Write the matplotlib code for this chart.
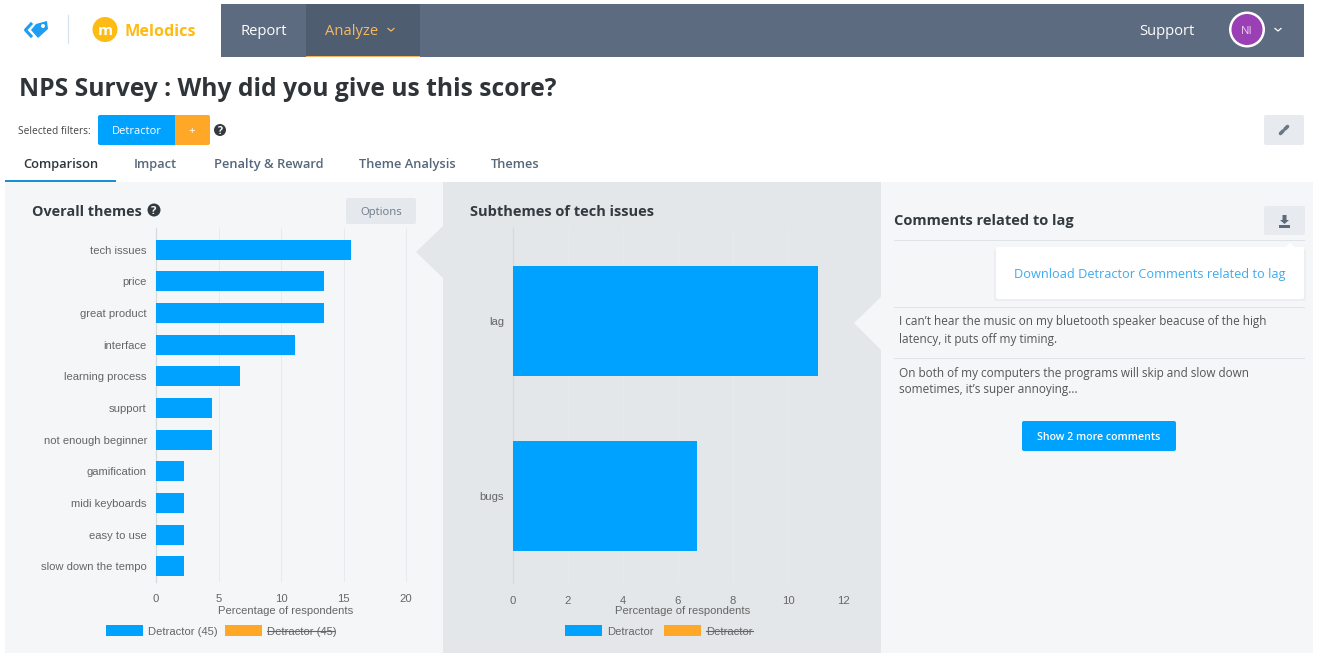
import matplotlib
matplotlib.use("Agg")
from matplotlib import pyplot as plt
from matplotlib.patches import Rectangle, Polygon, FancyBboxPatch, Circle

W, H = 1317, 653

themes = ["tech issues", "price", "great product", "interface", "learning process", "support",
          "not enough beginner", "gamification", "midi keyboards", "easy to use", "slow down the tempo"]
theme_vals = [15.6, 13.4, 13.4, 11.1, 6.7, 4.5, 4.5, 2.2, 2.2, 2.2, 2.2]
theme_ticks = [0, 5, 10, 15, 20]

subthemes = ["lag", "bugs"]
sub_vals = [11.1, 6.7]
sub_ticks = [0, 2, 4, 6, 8, 10, 12]

tabs = ["Comparison", "Impact", "Penalty & Reward", "Theme Analysis", "Themes"]
tab_x = [23, 134, 214, 359, 491]

BLUE = "#00a2ff"
ORANGE = "#ffa726"
NAV = "#5c6b80"
DARK = "#333a40"
UI = "Open Sans"
CHART = "Liberation Sans"

fig = plt.figure(figsize=(W / 100, H / 100), dpi=100, facecolor="white")

# page chrome, in pixel coordinates
bg = fig.add_axes([0, 0, 1, 1])
bg.set_xlim(0, W)
bg.set_ylim(H, 0)
bg.axis("off")


def rect(x, y, w, h, color, z=1):
    bg.add_patch(Rectangle((x, y), w, h, facecolor=color, edgecolor="none", zorder=z))


def button(x, y, w, h, color, z=3):
    bg.add_patch(FancyBboxPatch((x + 2, y + 2), w - 4, h - 4, boxstyle="round,pad=2,rounding_size=2",
                                facecolor=color, edgecolor="none", zorder=z))


def label(x, y, s, size=10, color=DARK, weight="normal", ha="left", family=UI, z=5, va="center_baseline"):
    return bg.text(x, y, s, fontsize=size, color=color, fontweight=weight, ha=ha, va=va,
                   family=family, zorder=z)


def help_icon(x, y, r=6.5):
    bg.add_patch(Circle((x, y), r, facecolor=DARK, edgecolor="none", zorder=5))
    label(x, y, "?", size=r * 1.25, color="white", weight="bold", ha="center", z=6)


# nav bar
rect(221, 4, 1083, 53, NAV)
rect(306, 4, 114, 53, "#4f5d70")
rect(306, 55.5, 114, 1.5, "#f5b35c", z=2)
label(240, 29.5, "Report", size=10.6, color="white")
label(325, 29.5, "Analyze", size=10.6, color="#f8b860")
bg.plot([388, 391, 394], [28.5, 31, 28.5], color="#f8b860", lw=0.9, zorder=5)
label(1139, 29.5, "Support", size=10.6, color="white")
bg.add_patch(Circle((1247, 29.5), 18, facecolor="white", edgecolor="none", zorder=3))
bg.add_patch(Circle((1247, 29.5), 15.5, facecolor="#9b3fb5", edgecolor="none", zorder=4))
label(1247, 29.5, "NI", size=8, color="#e9d4ef", ha="center")
bg.plot([1275, 1278, 1281], [28.5, 31, 28.5], color="white", lw=0.9, zorder=5)

# logos
bg.plot([31, 25.5, 31], [24, 30, 36], color="#1f9df2", lw=2.2, zorder=3)
bg.add_patch(Polygon([[36, 24], [47, 21], [48, 29], [38, 38], [31, 30]], facecolor="#1f9df2", edgecolor="none", zorder=3))
bg.add_patch(Circle((43, 26), 2, facecolor="white", edgecolor="none", zorder=4))
bg.plot([68, 68], [15, 43], color="#d8e2ea", lw=0.9, zorder=3)
bg.add_patch(Circle((105, 29.5), 12.5, facecolor="#fdbb13", edgecolor="none", zorder=3))
label(105, 29.5, "m", size=11, color="white", weight="bold", ha="center")
label(124, 29.5, "Melodics", size=11.6, color="#fdbb13", weight="bold")

# heading and filters
label(19, 87, "NPS Survey : Why did you give us this score?", size=17.7, color="#2f3439", weight="bold")
label(18, 130, "Selected filters:", size=7.3, color="#444444")
button(98, 115, 77, 30, BLUE)
button(175, 115, 35, 30, ORANGE)
rect(172, 115, 6, 30, BLUE, z=3)
rect(175, 115, 4, 30, ORANGE, z=3)
label(136.5, 130, "Detractor", size=8, color="white", ha="center")
label(192, 130, "+", size=8.2, color="white", ha="center")
help_icon(220, 130, 6)
button(1264, 115, 40, 30, "#e7ebef")
bg.plot([1280.5, 1283], [133.5, 131], color="#6b7785", lw=2.6, solid_capstyle="round", zorder=5)
bg.plot([1285, 1287.5], [129, 126.5], color="#6b7785", lw=2.6, solid_capstyle="round", zorder=5)
bg.plot([1282.5, 1285.5], [131.5, 128.5], color="#6b7785", lw=0.9, zorder=5)

# tabs share a baseline
for name, x, active in zip(tabs, tab_x, [True] + [False] * 4):
    label(x, 168, name, size=9.3, color="#2f353b" if active else "#56677a", weight="semibold", va="baseline")
rect(5, 180, 111, 2, "#1b8fd6", z=3)

# panels
rect(5, 182, 438, 471, "#f5f6f7")
rect(443, 182, 438, 471, "#e4e7ea")
rect(881, 182, 432, 471, "#f5f6f7")
bg.add_patch(Polygon([[443, 226], [416, 252], [443, 278]], facecolor="#e4e7ea", edgecolor="none", zorder=2))
bg.add_patch(Polygon([[881, 297], [854, 323], [881, 350]], facecolor="#f5f6f7", edgecolor="none", zorder=2))

label(32, 210, "Overall themes", size=10.4, color=DARK, weight="bold")
help_icon(154, 210, 6.5)
button(346, 198, 70, 26, "#e5e9ee")
label(381, 211, "Options", size=8.1, color="#6d7a88", ha="center")
label(470, 210, "Subthemes of tech issues", size=10.5, color=DARK, weight="bold")

# comments panel
label(894, 219.5, "Comments related to lag", size=10.5, color=DARK, weight="bold")
button(1264, 206, 41, 29, "#e7ebef")
bg.add_patch(Polygon([[1280, 220], [1282.5, 220], [1282.5, 215], [1286.5, 215], [1286.5, 220], [1289, 220], [1284.5, 224]],
                     facecolor="#5b6b7c", edgecolor="none", zorder=5))
rect(1279, 224.5, 11, 3, "#5b6b7c", z=5)
rect(894, 240, 411, 1.2, "#dfe2e6", z=2)
rect(894, 307, 411, 1, "#dfe2e6", z=2)
rect(894, 358, 411, 1, "#dfe2e6", z=2)
button(994, 249, 312, 52, "#eceef1", z=3)
button(996, 247, 308, 52, "white", z=4)
bg.add_patch(Polygon([[1284, 248], [1290, 243], [1296, 248]], facecolor="white", edgecolor="none", zorder=4))
label(1150, 273, "Download Detractor Comments related to lag", size=9.15, color="#3cabf0", ha="center")
label(899, 320.5, "I can\u2019t hear the music on my bluetooth speaker beacuse of the high", size=8.5, color="#555555")
label(899, 337.5, "latency, it puts off my timing.", size=8.5, color="#555555")
label(899, 371.5, "On both of my computers the programs will skip and slow down", size=8.5, color="#555555")
label(899, 388.5, "sometimes, it\u2019s super annoying...", size=8.5, color="#555555")
button(1022, 421, 154, 30, BLUE)
label(1099, 436, "Show 2 more comments", size=7.7, color="white", ha="center", weight="semibold")


def chart(x0, x1, y0, y1, cats, vals, ticks, xmax, height, ytop, legend_names, legend_x, xlabel_x):
    ax = fig.add_axes([x0 / W, 1 - y1 / H, (x1 - x0) / W, (y1 - y0) / H])
    ax.patch.set_alpha(0)
    pos = list(range(len(cats)))
    ax.barh(pos, vals, height=height, color=BLUE, zorder=3)
    ax.set_ylim(len(cats) - 0.5, ytop)
    ax.set_xlim(0, xmax)
    ax.set_yticks(pos, cats)
    ax.set_xticks(ticks, [str(t) for t in ticks])
    ax.tick_params(length=0)
    ax.tick_params(axis="y", pad=6.5, labelsize=8.1, labelcolor="#666666")
    ax.tick_params(axis="x", pad=9, labelsize=8.1, labelcolor="#666666")
    for lab in ax.get_xticklabels() + ax.get_yticklabels():
        lab.set_family(CHART)
    ax.grid(axis="x", color="#e8ebee", lw=0.7, zorder=0)
    for side in ("top", "right", "bottom"):
        ax.spines[side].set_visible(False)
    ax.spines["left"].set_color("#d5dade")
    ax.spines["left"].set_linewidth(0.9)
    label(xlabel_x, 610, "Percentage of respondents", size=8.1, color="#666666", ha="center", family=CHART)
    # legend: the second series is switched off, hence the struck through name
    lx = legend_x
    for name, col, off, tw in legend_names:
        rect(lx, 625, 37, 11, col, z=3)
        label(lx + 42, 631, name, size=8.1, color="#666666", family=CHART)
        if off:
            bg.plot([lx + 42, lx + 42 + tw], [631, 631], color="#666666", lw=0.8, zorder=6)
        lx += 42 + tw + 10
    return ax


chart(156, 416, 228, 582, themes, theme_vals, theme_ticks, 20.8, 0.63, -0.69,
      [("Detractor (45)", BLUE, False, 67), ("Detractor (45)", ORANGE, True, 67)], 106, 285.5)
chart(513, 843, 228, 583, subthemes, sub_vals, sub_ticks, 11.96, 0.63, -0.533,
      [("Detractor", BLUE, False, 47), ("Detractor", ORANGE, True, 47)], 565, 682.5)

fig.savefig("out.png", dpi=100)
